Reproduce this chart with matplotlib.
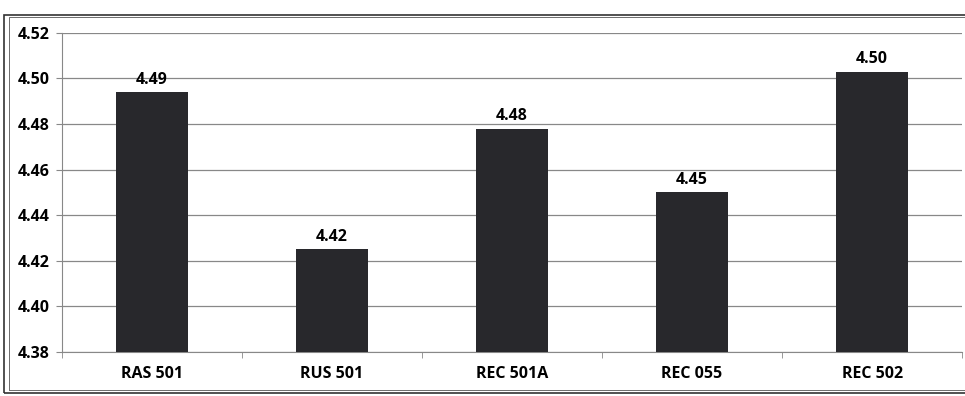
import matplotlib.pyplot as plt
from matplotlib.patches import Rectangle

categories = ["RAS 501", "RUS 501", "REC 501A", "REC 055", "REC 502"]
values = [4.494, 4.425, 4.478, 4.450, 4.503]
labels = ["4.49", "4.42", "4.48", "4.45", "4.50"]
yticks = [4.38, 4.40, 4.42, 4.44, 4.46, 4.48, 4.50, 4.52]

plt.rcParams['font.family'] = ['Open Sans', 'DejaVu Sans']

fig = plt.figure(figsize=(9.65, 3.96), dpi=100)
ax = fig.add_axes([0.064, 0.111, 0.933, 0.806])

x = range(len(categories))
ax.bar(x, values, width=0.4, bottom=0, color="#28282c", zorder=3)
ax.set_ylim(4.38, 4.52)
ax.set_xlim(-0.5, len(categories) - 0.5)
ax.set_yticks(yticks)
ax.set_yticklabels([f"{v:.2f}" for v in yticks], fontsize=11.5, fontweight="bold")
ax.set_xticks(list(x))
ax.set_xticklabels(categories, fontsize=11.5, fontweight="bold")
ax.tick_params(axis="x", length=0, pad=10)
ax.tick_params(axis="y", length=4, width=0.8, color="#888888", pad=5)
# small tick marks between categories
ax.set_xticks([i + 0.5 for i in range(-1, len(categories))], minor=True)
ax.tick_params(axis="x", which="minor", length=4, color="#888888")

ax.grid(axis="y", color="#888888", linewidth=0.9, zorder=0)
for side in ["top", "right"]:
    ax.spines[side].set_visible(False)
ax.spines["left"].set_color("#888888")
ax.spines["bottom"].set_color("#888888")

for i, (v, t) in enumerate(zip(values, labels)):
    ax.text(i, v + 0.002, t, ha="center", va="bottom", fontsize=11.5, fontweight="bold", zorder=4)

# outer frame around the whole chart
fig.patches.append(Rectangle((0.004, 0.008), 1.2, 0.953, transform=fig.transFigure,
                             fill=False, edgecolor="#333333", linewidth=1.2))
fig.patches.append(Rectangle((0.009, 0.014), 1.2, 0.943, transform=fig.transFigure,
                             fill=False, edgecolor="#555555", linewidth=0.6))

fig.savefig("out.png", dpi=100)
